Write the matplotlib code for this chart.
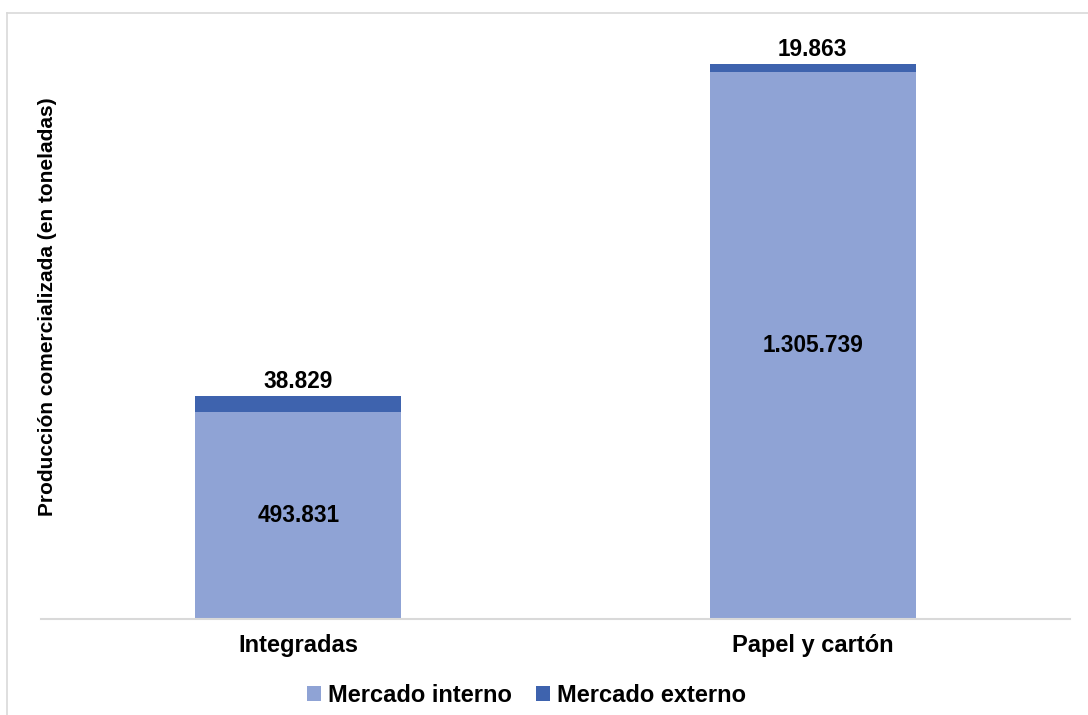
import matplotlib
matplotlib.use('Agg')
import matplotlib.pyplot as plt
from matplotlib.lines import Line2D

plt.rcParams['font.family'] = ['Liberation Sans', 'DejaVu Sans']

# datos
categorias = ['Integradas', 'Papel y cartón']
mercado_interno = [493831, 1305739]
mercado_externo = [38829, 19863]

color_interno = '#8FA3D5'
color_externo = '#3E63AE'


def fmt(v):
    return f'{v:,}'.replace(',', '.')


fig = plt.figure(figsize=(10.88, 7.15), dpi=100)
ax = fig.add_axes([0.0377, 0.1343, 0.9458, 0.8195])

x = list(range(len(categorias)))
ancho = 0.4
b1 = ax.bar(x, mercado_interno, ancho, color=color_interno, label='Mercado interno')
b2 = ax.bar(x, mercado_externo, ancho, bottom=mercado_interno, color=color_externo,
            label='Mercado externo')

for i in x:
    ax.text(i, mercado_interno[i] / 2, fmt(mercado_interno[i]), ha='center', va='center',
            fontsize=16.3, fontweight='bold')
    total = mercado_interno[i] + mercado_externo[i]
    ax.annotate(fmt(mercado_externo[i]), (i, total), xytext=(0, 2), textcoords='offset points',
                ha='center', va='bottom', fontsize=16.3, fontweight='bold')

ax.set_xlim(-0.5, 1.5)
ax.set_ylim(0, 1.4e6)
ax.set_xticks(x)
ax.set_xticklabels(categorias, fontsize=17, fontweight='bold')
ax.tick_params(axis='x', length=0, pad=11)
ax.set_yticks([])
for s in ['top', 'right', 'left']:
    ax.spines[s].set_visible(False)
ax.spines['bottom'].set_color('#d9d9d9')
ax.spines['bottom'].set_linewidth(1.5)

fig.text(0.044, 0.571, 'Producción comercializada (en toneladas)', rotation=90,
         ha='center', va='center', fontsize=15, fontweight='bold')

fig.legend(handles=[b1, b2], loc='center', bbox_to_anchor=(0.484, 0.027), ncol=2,
           frameon=False, prop={'size': 17, 'weight': 'bold'}, handlelength=0.6,
           handleheight=0.6, handletextpad=0.3, columnspacing=1.0)

# borde del gráfico (arriba e izquierda)
W, H = 1088, 715
fig.add_artist(Line2D([6.5 / W, 1.0], [1 - 12.5 / H] * 2, transform=fig.transFigure,
                      color='#d9d9d9', linewidth=1.2))
fig.add_artist(Line2D([6.5 / W] * 2, [0, 1 - 12.5 / H], transform=fig.transFigure,
                      color='#d9d9d9', linewidth=1.2))

plt.savefig('out.png', dpi=100)
